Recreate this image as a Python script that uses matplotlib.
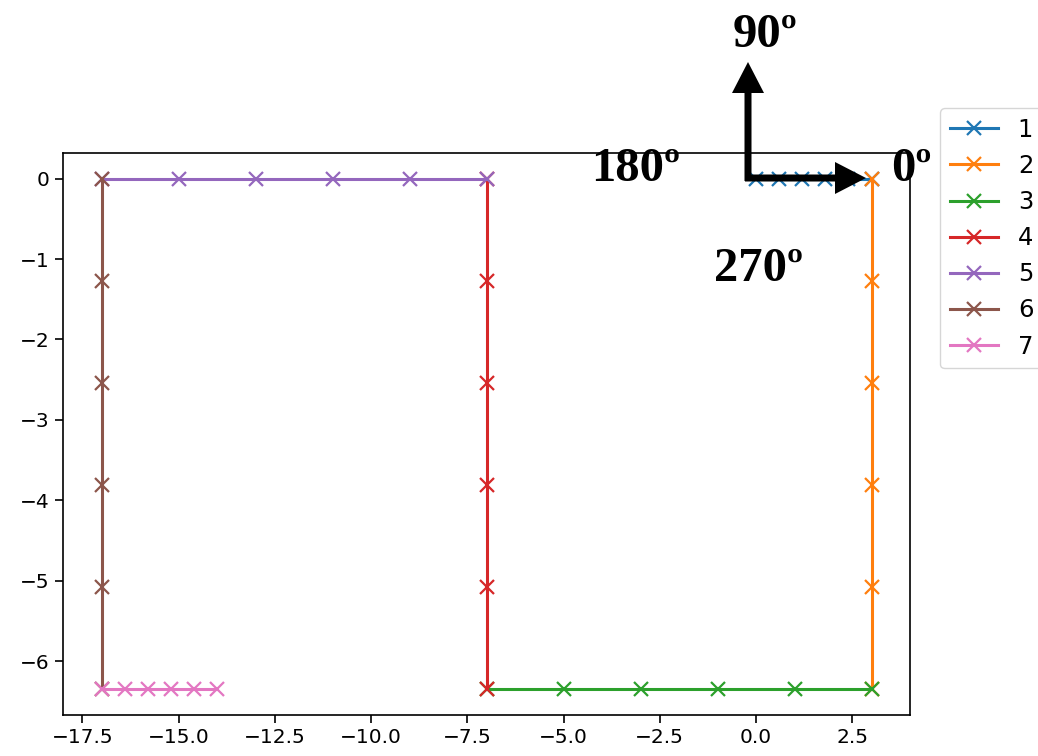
import matplotlib

matplotlib.use("Agg")

import matplotlib.pyplot as plt
from matplotlib.patches import FancyArrow
from matplotlib.transforms import IdentityTransform

# path segments, one per leg
x1 = [0.0, 0.6, 1.2, 1.8, 2.4, 3.0]
y1 = [0, 0, 0, 0, 0, 0]
x2 = [3, 3, 3, 3, 3, 3]
y2 = [0.0, -1.27, -2.54, -3.81, -5.08, -6.35]
x3 = [3, 1, -1, -3, -5, -7]
y3 = [-6.35] * 6
x4 = [-7, -7, -7, -7, -7, -7]
y4 = [-6.35, -5.08, -3.81, -2.54, -1.27, 0.0]
x5 = [-7, -9, -11, -13, -15, -17]
y5 = [0, 0, 0, 0, 0, 0]
x6 = [-17, -17, -17, -17, -17, -17]
y6 = [0.0, -1.27, -2.54, -3.81, -5.08, -6.35]
x7 = [-17.0, -16.4, -15.8, -15.2, -14.6, -14.0]
y7 = [-6.35] * 6

segments = [(x1, y1), (x2, y2), (x3, y3), (x4, y4), (x5, y5), (x6, y6), (x7, y7)]
labels = ["1", "2", "3", "4", "5", "6", "7"]

W, H = 1038, 756
fig = plt.figure(figsize=(W / 100, H / 100), dpi=100)
ax = fig.add_axes([63 / W, 1 - 715 / H, (910 - 63) / W, (715 - 153) / H])

for (xs, ys), lab in zip(segments, labels):
    ax.plot(xs, ys, marker="x", markersize=10, markeredgewidth=1.6, linewidth=2.2, label=lab)

ax.tick_params(labelsize=14.5, length=6, width=1.2)
for s in ax.spines.values():
    s.set_linewidth(1.2)

ax.legend(loc="upper left", bbox_to_anchor=(940 / W, 1 - 108 / H), bbox_transform=fig.transFigure,
          fontsize=17.5, handlelength=2.0, borderaxespad=0)

# compass arrows, in figure pixels (origin bottom-left)
for x0, y0, dx, dy in [(748, H - 181, 0, 181 - 62), (745, H - 178, 866 - 745, 0)]:
    fig.add_artist(FancyArrow(x0, y0, dx, dy, width=7, head_width=32, head_length=31,
                              length_includes_head=True, color="black", lw=0,
                              transform=IdentityTransform()))

deg = dict(family="Liberation Serif", fontweight="bold", fontsize=35, ha="center", va="center")
fig.text(765 / W, 1 - 35 / H, "90º", **deg)
fig.text(636 / W, 1 - 169 / H, "180º", **deg)
fig.text(911 / W, 1 - 169 / H, "0º", **deg)
fig.text(758 / W, 1 - 269 / H, "270º", **deg)

fig.savefig("out.png", dpi=100)
